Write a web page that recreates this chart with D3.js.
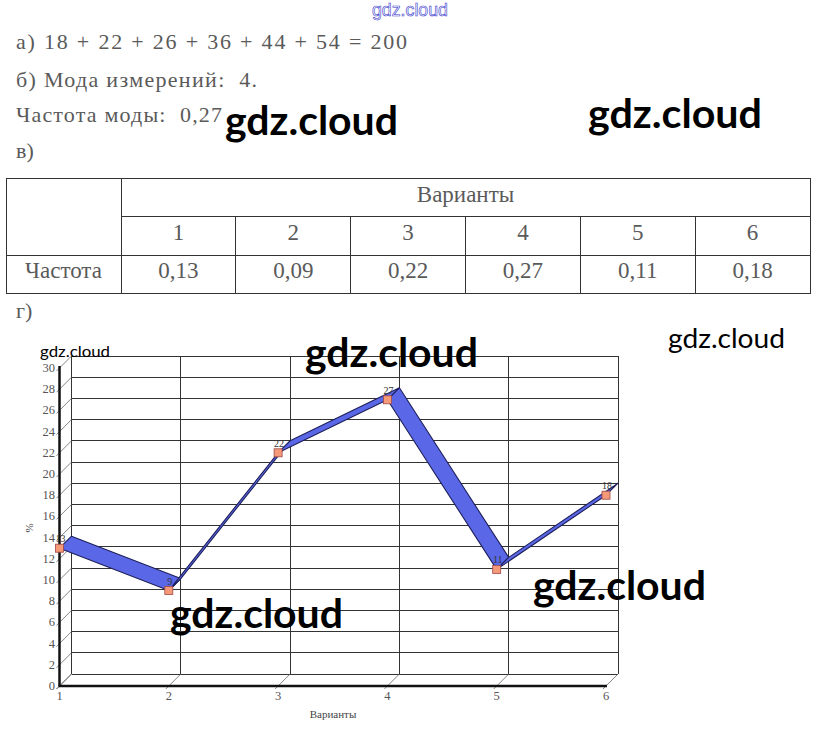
<!DOCTYPE html>
<html>
<head>
<meta charset="utf-8">
<script src="https://cdn.jsdelivr.net/npm/d3@7/dist/d3.min.js"></script>
<style>
  html, body { margin: 0; padding: 0; background: #fff; }
  svg { display: block; }
</style>
</head>
<body>
<svg id="chart" width="820" height="737"></svg>
<script>
// ---------- data ----------
const formulaTerms = [18, 22, 26, 36, 44, 54];
const formulaSum = 200;
const modeValue = "4.";
const modeFreq = "0,27";
const categories = [1, 2, 3, 4, 5, 6];
const frequencies = ["0,13", "0,09", "0,22", "0,27", "0,11", "0,18"];
const percents = [13, 9, 22, 27, 11, 18];
const yTicks = [0, 2, 4, 6, 8, 10, 12, 14, 16, 18, 20, 22, 24, 26, 28, 30];
const tableHeader = "Варианты";
const tableRowLabel = "Частота";
const xAxisTitle = "Варианты";
const yAxisTitle = "%";

const svg = d3.select("#chart");
svg.append("rect").attr("width", 820).attr("height", 737).attr("fill", "#fff");

const serif = "'Liberation Serif', 'Times New Roman', serif";
const textGrey = "#5a5a5a";

// ---------- top text ----------
const lines = [
  { t: "а) " + formulaTerms.join(" + ") + " = " + formulaSum, y: 49, w: 391 },
  { t: "б) Мода измерений:  " + modeValue, y: 87, w: 241 },
  { t: "Частота моды:  " + modeFreq, y: 122, w: 206 },
  { t: "в)", y: 158, w: null },
  { t: "г)", y: 318, w: null }
];
lines.forEach(l => {
  const tx = svg.append("text")
    .attr("x", 16).attr("y", l.y)
    .attr("font-family", serif).attr("font-size", 22)
    .attr("fill", textGrey)
    .style("white-space", "pre")
    .text(l.t);
  if (l.w) tx.attr("textLength", l.w).attr("lengthAdjust", "spacing");
});

// ---------- table ----------
const tX0 = 6, tX1 = 121, tX2 = 810;
const rowY = [178, 216.5, 255, 293];
const colX = d3.scaleLinear().domain([0, categories.length]).range([tX1, tX2]);
const tg = svg.append("g").attr("stroke", "#333").attr("stroke-width", 1).attr("shape-rendering", "crispEdges");
tg.append("rect").attr("x", tX0).attr("y", rowY[0]).attr("width", tX2 - tX0).attr("height", rowY[3] - rowY[0]).attr("fill", "none");
tg.append("line").attr("x1", tX1).attr("x2", tX1).attr("y1", rowY[0]).attr("y2", rowY[3]);
tg.append("line").attr("x1", tX1).attr("x2", tX2).attr("y1", rowY[1]).attr("y2", rowY[1]);
tg.append("line").attr("x1", tX0).attr("x2", tX2).attr("y1", rowY[2]).attr("y2", rowY[2]);
categories.slice(1).forEach((c, i) => {
  tg.append("line").attr("x1", colX(i + 1)).attr("x2", colX(i + 1)).attr("y1", rowY[1]).attr("y2", rowY[3]);
});
const tfont = { "font-family": serif, "font-size": 23, "fill": textGrey, "text-anchor": "middle" };
function ttext(x, y, s) {
  const e = svg.append("text").attr("x", x).attr("y", y).text(s);
  Object.entries(tfont).forEach(([k, v]) => e.attr(k, v));
  return e;
}
ttext((tX1 + tX2) / 2, 202, tableHeader);
categories.forEach((c, i) => ttext(colX(i + 0.5), 240, c));
ttext((tX0 + tX1) / 2, 278, tableRowLabel);
frequencies.forEach((f, i) => ttext(colX(i + 0.5), 278, f));

// ---------- 3D line chart ----------
const dx = 12, dy = -12;
const x = d3.scalePoint().domain(categories).range([59.5, 606]);
const y = d3.scaleLinear().domain([0, 30]).range([686, 368]);
const yMax = 30;
const cg = svg.append("g");

// back wall horizontal gridlines
cg.append("g").selectAll("line").data(yTicks).join("line")
  .attr("x1", x(categories[0]) + dx).attr("x2", x(categories[categories.length - 1]) + dx)
  .attr("y1", d => y(d) + dy).attr("y2", d => y(d) + dy)
  .attr("stroke", "#333").attr("stroke-width", 1).attr("shape-rendering", "crispEdges");
// back wall vertical gridlines
cg.append("g").selectAll("line").data(categories).join("line")
  .attr("x1", d => x(d) + dx).attr("x2", d => x(d) + dx)
  .attr("y1", y(0) + dy).attr("y2", y(yMax) + dy)
  .attr("stroke", "#333").attr("stroke-width", 1).attr("shape-rendering", "crispEdges");
// side wall diagonals
cg.append("g").selectAll("line").data(yTicks).join("line")
  .attr("x1", x(categories[0]) - 3).attr("y1", d => y(d) + 3)
  .attr("x2", x(categories[0]) + dx).attr("y2", d => y(d) + dy)
  .attr("stroke", "#666").attr("stroke-width", 0.8);
// floor diagonals
cg.append("g").selectAll("line").data(categories).join("line")
  .attr("x1", d => x(d) - 3).attr("y1", y(0) + 3)
  .attr("x2", d => x(d) + dx).attr("y2", y(0) + dy)
  .attr("stroke", "#666").attr("stroke-width", 0.8);
// front axes
cg.append("line").attr("x1", x(categories[0])).attr("x2", x(categories[0]))
  .attr("y1", y(0)).attr("y2", y(yMax) - 2).attr("stroke", "#111").attr("stroke-width", 2.5);
cg.append("line").attr("x1", x(categories[0]) - 1).attr("x2", x(categories[categories.length - 1]) + 1)
  .attr("y1", y(0)).attr("y2", y(0)).attr("stroke", "#111").attr("stroke-width", 2.5);

// y tick labels
cg.append("g").selectAll("text").data(yTicks).join("text")
  .attr("x", 55).attr("y", d => y(d) + 4)
  .attr("text-anchor", "end")
  .attr("font-family", serif).attr("font-size", 12.5).attr("fill", "#555")
  .text(d => d);
// x tick labels
cg.append("g").selectAll("text").data(categories).join("text")
  .attr("x", d => x(d)).attr("y", 700)
  .attr("text-anchor", "middle")
  .attr("font-family", serif).attr("font-size", 12.5).attr("fill", "#555")
  .text(d => d);
// axis titles
cg.append("text").attr("x", 333).attr("y", 718).attr("text-anchor", "middle")
  .attr("font-family", serif).attr("font-size", 11).attr("fill", "#444").text(xAxisTitle);
cg.append("text").attr("transform", "translate(33,528) rotate(-90)").attr("text-anchor", "middle")
  .attr("font-family", serif).attr("font-size", 11).attr("fill", "#444").text(yAxisTitle);

// ribbons
const pts = categories.map((c, i) => [x(c), y(percents[i])]);
const segs = d3.pairs(pts);
cg.append("g").selectAll("path").data(segs).join("path")
  .attr("d", ([a, b]) => d3.line()([a, b, [b[0] + dx, b[1] + dy], [a[0] + dx, a[1] + dy]]) + "Z")
  .attr("fill", "#5a68e8").attr("stroke", "#1e1f5a").attr("stroke-width", 1.1).attr("stroke-linejoin", "round");

// markers
cg.append("g").selectAll("rect").data(pts).join("rect")
  .attr("x", d => d[0] - 4).attr("y", d => d[1] - 4)
  .attr("width", 8).attr("height", 8)
  .attr("fill", "#f59a78").attr("stroke", "#a04848").attr("stroke-width", 0.8);
// data labels
cg.append("g").selectAll("text").data(pts).join("text")
  .attr("x", d => d[0] + 1).attr("y", d => d[1] - 6)
  .attr("text-anchor", "middle")
  .attr("font-family", serif).attr("font-size", 10).attr("fill", "#333")
  .text((d, i) => percents[i]);

// ---------- watermarks ----------
const lato = "Lato, 'Open Sans', sans-serif";
svg.append("text").attr("x", 410).attr("y", 16).attr("text-anchor", "middle")
  .attr("font-family", "'Liberation Sans', Arial, sans-serif").attr("font-size", 18)
  .attr("fill", "#ffffff").attr("stroke", "#3a3acc").attr("stroke-width", 0.6)
  .attr("textLength", 76).attr("lengthAdjust", "spacingAndGlyphs")
  .text("gdz.cloud");
const marks = [
  { x: 225, y: 135, s: 40, w: 173, b: 700 },
  { x: 588, y: 128, s: 40, w: 174, b: 700 },
  { x: 305, y: 367, s: 40, w: 173, b: 700 },
  { x: 170, y: 628, s: 40, w: 173, b: 700 },
  { x: 533, y: 600, s: 40, w: 173, b: 700 },
  { x: 668, y: 348, s: 27, w: 117, b: 400 },
  { x: 40, y: 357, s: 16, w: 70, b: 400 }
];
marks.forEach(m => {
  svg.append("text").attr("x", m.x).attr("y", m.y)
    .attr("font-family", lato).attr("font-size", m.s).attr("font-weight", m.b)
    .attr("fill", "#000")
    .attr("textLength", m.w).attr("lengthAdjust", "spacingAndGlyphs")
    .text("gdz.cloud");
});
</script>
</body>
</html>
